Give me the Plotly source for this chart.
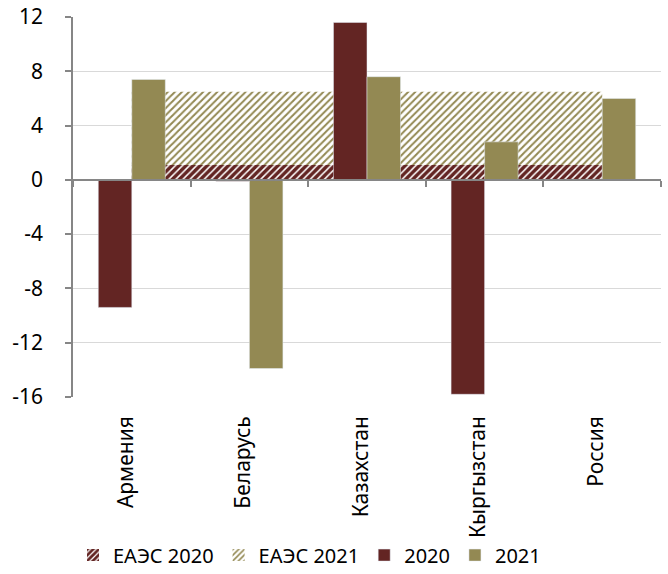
import plotly.graph_objects as go

categories = ["Армения", "Беларусь", "Казахстан", "Кыргызстан", "Россия"]
v2020 = [-9.4, -0.1, 11.6, -15.8, None]
v2021 = [7.4, -13.9, 7.6, 2.8, 6.0]
eaes2020 = [1.1, 1.1, 1.1, 1.1, 1.1]
eaes2021 = [6.5, 6.5, 6.5, 6.5, 6.5]
y_ticks = [-16, -12, -8, -4, 0, 4, 8, 12]
y_tick_text = ["-16", "-12", "-8", "-4", "0", "4", "8", "12"]

RED = "#632523"
OLIVE = "#938953"
FONT = "Noto Sans"

pat21 = dict(shape="/", fgcolor=OLIVE, bgcolor="white", size=5, solidity=0.4,
             fgopacity=1)
pat20 = dict(shape="/", fgcolor=RED, bgcolor="white", size=5, solidity=0.7,
             fgopacity=1)

fig = go.Figure()

# areas (background, main axes)
fig.add_trace(go.Scatter(
    x=categories, y=eaes2021, name="ЕАЭС 2021", mode="none", fill="tozeroy",
    fillcolor="white", fillpattern=pat21, showlegend=False,
    legendgroup="e21", xaxis="x", yaxis="y"))
fig.add_trace(go.Scatter(
    x=categories, y=eaes2020, name="ЕАЭС 2020", mode="none", fill="tozeroy",
    fillcolor="white", fillpattern=pat20, showlegend=False,
    legendgroup="e20", xaxis="x", yaxis="y"))

# legend-only entries with square hatched icons
fig.add_trace(go.Bar(x=categories, y=[None] * len(categories), name="ЕАЭС 2020",
                     marker=dict(color="white", pattern=pat20, line=dict(width=0)),
                     legendgroup="e20", legendrank=1, xaxis="x", yaxis="y"))
fig.add_trace(go.Bar(x=categories, y=[None] * len(categories), name="ЕАЭС 2021",
                     marker=dict(color="white", pattern=pat21, line=dict(width=0)),
                     legendgroup="e21", legendrank=2, xaxis="x", yaxis="y"))

# bars (overlay axes so they sit above the areas)
fig.add_trace(go.Bar(x=categories, y=v2020, name="2020", marker_color=RED,
                     legendrank=3, xaxis="x2", yaxis="y2"))
fig.add_trace(go.Bar(x=categories, y=v2021, name="2021", marker_color=OLIVE,
                     legendrank=4, xaxis="x2", yaxis="y2"))

fig.update_layout(
    width=668, height=574,
    margin=dict(l=73, r=7, t=17, b=177, autoexpand=False),
    paper_bgcolor="white", plot_bgcolor="white",
    font=dict(family=FONT, size=20, color="black"),
    barmode="group", bargap=0.43, bargroupgap=0,
    showlegend=True,
    legend=dict(orientation="h", x=0.0, xanchor="left", y=-0.416, yanchor="middle",
                font=dict(size=20), itemwidth=30, traceorder="normal"),
    xaxis=dict(type="category", categoryarray=categories, categoryorder="array",
               showline=False, ticks="", tickangle=-90, showgrid=False,
               zeroline=False, ticklabelstandoff=14, ticklabelshift=-6,
               automargin=False, tickfont=dict(size=21)),
    yaxis=dict(range=[-16, 12], tickvals=y_ticks, ticktext=y_tick_text,
               showgrid=True, gridcolor="#d9d9d9",
               gridwidth=1, zeroline=False, showline=True, linecolor="#868686",
               linewidth=1.5, ticks="outside", ticklen=6, tickcolor="#868686",
               tickwidth=1.5, ticklabelstandoff=18, automargin=False,
               tickfont=dict(size=21)),
    xaxis2=dict(type="category", matches="x", overlaying="x", anchor="free",
                position=16/28, showline=True, linecolor="#868686", linewidth=1.5,
                ticks="outside", tickson="boundaries", ticklen=6,
                tickcolor="#868686", tickwidth=1.5, showticklabels=False,
                showgrid=False, zeroline=False, automargin=False),
    yaxis2=dict(matches="y", overlaying="y", visible=False, showgrid=False,
                zeroline=False, automargin=False),
)

fig.write_html("out.html", config={"displayModeBar": False},
               post_script="document.body.style.margin='0';document.body.style.overflow='hidden';")
